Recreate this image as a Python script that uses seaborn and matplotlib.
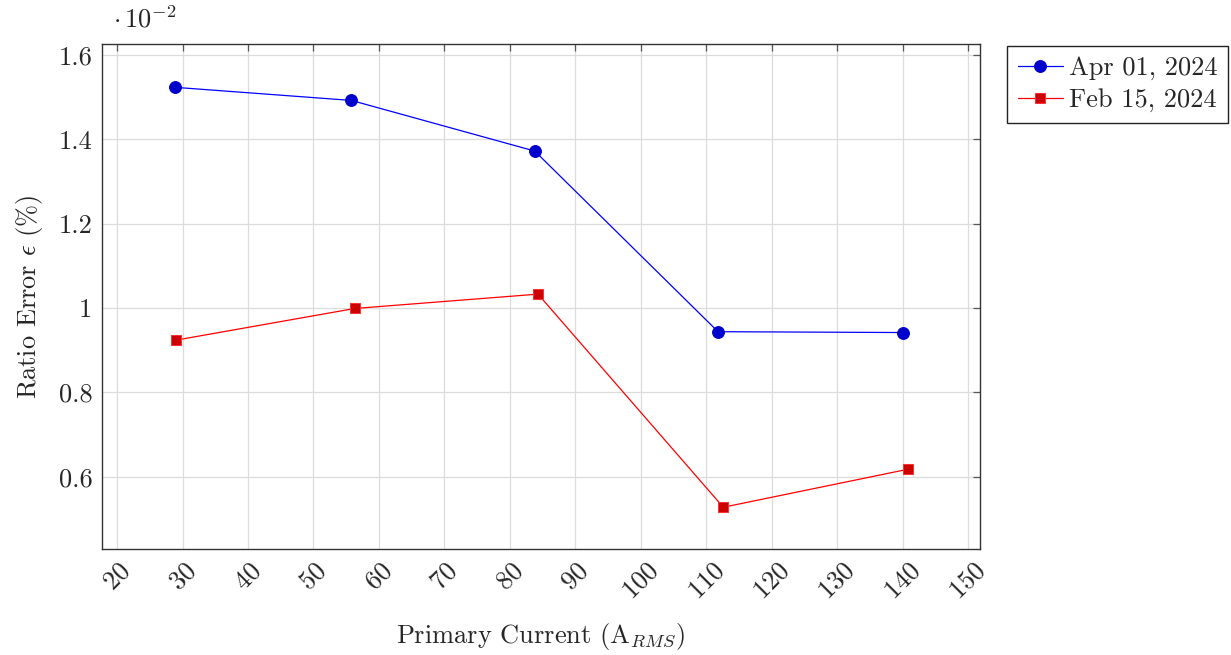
import matplotlib
matplotlib.use("Agg")
import matplotlib.pyplot as plt
import matplotlib.ticker as mticker
import pandas as pd
import seaborn as sns

# Primary current (A_RMS) and ratio error (%), values shown in units of 1e-2
apr_current = [28.9, 55.8, 83.8, 111.8, 140.0]
apr_error = [1.523, 1.492, 1.372, 0.944, 0.942]
feb_current = [29.0, 56.3, 84.3, 112.6, 140.8]
feb_error = [0.924, 0.999, 1.033, 0.528, 0.618]
series_names = ["Apr 01, 2024", "Feb 15, 2024"]
x_ticks = [20, 30, 40, 50, 60, 70, 80, 90, 100, 110, 120, 130, 140, 150]
y_ticks = [0.6, 0.8, 1.0, 1.2, 1.4, 1.6]
scale_exp = -2

sns.set_theme(style="white")
plt.rcParams["font.family"] = ["cmr10", "DejaVu Serif"]
plt.rcParams["mathtext.fontset"] = "cm"
plt.rcParams["axes.unicode_minus"] = False
plt.rcParams["axes.formatter.use_mathtext"] = True

FS = 19

df_apr = pd.DataFrame({"current": apr_current, "error": apr_error})
df_feb = pd.DataFrame({"current": feb_current, "error": feb_error})

fig = plt.figure(figsize=(12.31, 6.55), dpi=100)
ax = fig.add_axes([0.0829, 0.1618, 0.7131, 0.7712])

sns.lineplot(data=df_apr, x="current", y="error", ax=ax, color="#0000ff",
             linewidth=0.9, marker="o", markersize=8.5,
             markerfacecolor="#0000cc", markeredgecolor="#0000cc",
             label=series_names[0], sort=False)
sns.lineplot(data=df_feb, x="current", y="error", ax=ax, color="#ff0000",
             linewidth=0.9, marker="s", markersize=7.5,
             markerfacecolor="#cc0000", markeredgecolor="#ff3333",
             label=series_names[1], sort=False)

ax.set_xlim(17.7, 151.8)
ax.set_ylim(0.429, 1.626)
ax.set_xticks(x_ticks)
ax.set_yticks(y_ticks)
ax.yaxis.set_major_formatter(mticker.FormatStrFormatter("%g"))
ax.grid(True, color="#dcdcdc", linewidth=0.9)
ax.set_axisbelow(True)
ax.tick_params(axis="both", direction="in", length=5, width=0.9,
               color="#555555", top=True, right=True, labelsize=FS,
               pad=7)
plt.setp(ax.get_xticklabels(), rotation=45, ha="center", va="top")
for spine in ax.spines.values():
    spine.set_color("#333333")
    spine.set_linewidth(1.0)

ax.set_xlabel(r"Primary Current (A$_{RMS}$)", fontsize=FS, labelpad=12)
ax.set_ylabel(r"Ratio Error $\epsilon$ (%)", fontsize=FS, labelpad=10)
ax.text(0.013, 1.022, r"$\cdot\,10^{%d}$" % scale_exp, transform=ax.transAxes,
        fontsize=FS, ha="left", va="bottom")

leg = ax.legend(loc="upper left", bbox_to_anchor=(1.031, 0.996), fontsize=FS,
                frameon=True, fancybox=False, edgecolor="#222222",
                framealpha=1, handlelength=1.7, handletextpad=0.25,
                borderpad=0.4, borderaxespad=0, labelspacing=0.3)
leg.get_frame().set_linewidth(1.0)

fig.savefig("out.png", dpi=100)
